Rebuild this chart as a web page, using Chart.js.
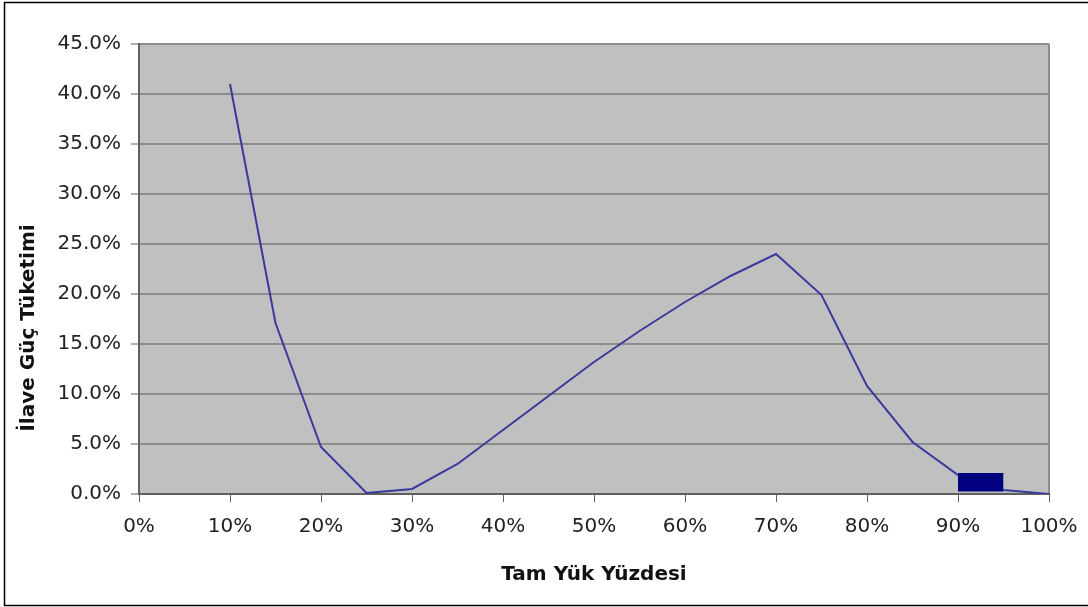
<!DOCTYPE html>
<html>
<head>
<meta charset="utf-8">
<script src="https://cdn.jsdelivr.net/npm/chart.js@4"></script>
<style>
  html, body { margin: 0; padding: 0; background: #fff; }
  #wrap { width: 1088px; height: 607px; position: relative; }
</style>
</head>
<body>
<div id="wrap"><canvas id="yukChart"></canvas></div>
<script>
// Tam yük yüzdesi (x) ve ilave güç tüketimi (y), ikisi de %
var loadPct = [10, 15, 20, 25, 30, 35, 40, 45, 50, 55, 60, 65, 70, 75, 80, 85, 90, 95, 100];
var extraPower = [41.0, 17.1, 4.7, 0.1, 0.5, 3.0, 6.4, 9.8, 13.2, 16.3, 19.2, 21.8, 24.0, 19.9, 10.8, 5.2, 1.9, 0.4, 0.0];

// koyu mavi kutu (90%-95%)
var boxX = [90, 95];
var boxTop = [2.05, 2.05];
var boxBottom = [0.3, 0.3];

var xTicks = [0, 10, 20, 30, 40, 50, 60, 70, 80, 90, 100];
var yTitle = 'İlave Güç Tüketimi';

function pts(xs, ys) {
    return xs.map(function (x, i) { return { x: x, y: ys[i] }; });
}

var plotBg = {
    id: 'plotBg',
    beforeDraw: function (chart) {
        var ctx = chart.ctx, a = chart.chartArea;
        ctx.save();
        ctx.fillStyle = '#ffffff';
        ctx.fillRect(0, 0, chart.width, chart.height);
        ctx.fillStyle = '#c0c0c0';
        ctx.fillRect(a.left, a.top, a.right - a.left, a.bottom - a.top);
        // right edge of plot area
        ctx.strokeStyle = '#8c8c8c';
        ctx.lineWidth = 2;
        ctx.beginPath();
        ctx.moveTo(a.right, a.top);
        ctx.lineTo(a.right, a.bottom);
        ctx.stroke();
        // outer frame
        ctx.strokeStyle = '#000';
        ctx.lineWidth = 1.5;
        ctx.beginPath();
        ctx.moveTo(chart.width, 2.5);
        ctx.lineTo(4.5, 2.5);
        ctx.lineTo(4.5, 605.5);
        ctx.lineTo(chart.width, 605.5);
        ctx.stroke();
        ctx.restore();
    },
    afterDraw: function (chart) {
        // y axis title, sits a bit lower than the plot centre like the original
        var ctx = chart.ctx;
        ctx.save();
        ctx.translate(29, 328);
        ctx.rotate(-Math.PI / 2);
        ctx.font = 'bold 20px "DejaVu Sans"';
        ctx.fillStyle = '#111';
        ctx.textAlign = 'center';
        ctx.textBaseline = 'middle';
        ctx.fillText(yTitle, 0, 0);
        ctx.restore();
    }
};

var tickFont = { family: 'DejaVu Sans', size: 20 };

var ctx = document.getElementById('yukChart');
var yukChart = new Chart(ctx, {
    type: 'line',
    data: {
        datasets: [{
            data: pts(boxX, boxTop),
            borderColor: '#000080',
            backgroundColor: '#000080',
            borderWidth: 1,
            pointRadius: 0,
            fill: '+1'
        }, {
            data: pts(boxX, boxBottom),
            borderColor: '#000080',
            borderWidth: 1,
            pointRadius: 0,
            fill: false
        }, {
            data: pts(loadPct, extraPower),
            borderColor: '#3a3a9c',
            borderWidth: 2,
            pointRadius: 0,
            tension: 0,
            fill: false
        }]
    },
    options: {
        responsive: true,
        maintainAspectRatio: false,
        animation: false,
        layout: {
            padding: { left: 0, right: 39, top: 44, bottom: 0 }
        },
        scales: {
            x: {
                type: 'linear',
                min: 0,
                max: 100,
                afterBuildTicks: function (axis) {
                    axis.ticks = xTicks.map(function (v) { return { value: v }; });
                },
                afterFit: function (axis) {
                    axis.height = 113;
                    axis.paddingLeft = 0;
                    axis.paddingRight = 0;
                },
                grid: {
                    drawOnChartArea: false,
                    drawTicks: true,
                    tickLength: 8,
                    color: '#606060',
                    lineWidth: 1
                },
                border: { color: '#606060', width: 2 },
                ticks: {
                    color: '#222',
                    font: tickFont,
                    padding: 13,
                    maxRotation: 0,
                    callback: function (v) { return v + '%'; }
                },
                title: {
                    display: true,
                    text: 'Tam Yük Yüzdesi',
                    color: '#111',
                    font: { family: 'DejaVu Sans', size: 20, weight: 'bold' },
                    padding: { top: 0, bottom: 20 }
                }
            },
            y: {
                min: 0,
                max: 45,
                afterFit: function (axis) { axis.width = 139; },
                ticks: {
                    stepSize: 5,
                    color: '#222',
                    font: tickFont,
                    padding: 10,
                    callback: function (v) { return v.toFixed(1) + '%'; }
                },
                grid: {
                    color: '#8c8c8c',
                    lineWidth: 2,
                    tickLength: 8,
                    tickColor: '#606060',
                    tickWidth: 1
                },
                border: { color: '#606060', width: 2 }
            }
        },
        plugins: {
            legend: { display: false },
            tooltip: { enabled: false }
        }
    },
    plugins: [plotBg]
});
</script>
</body>
</html>
